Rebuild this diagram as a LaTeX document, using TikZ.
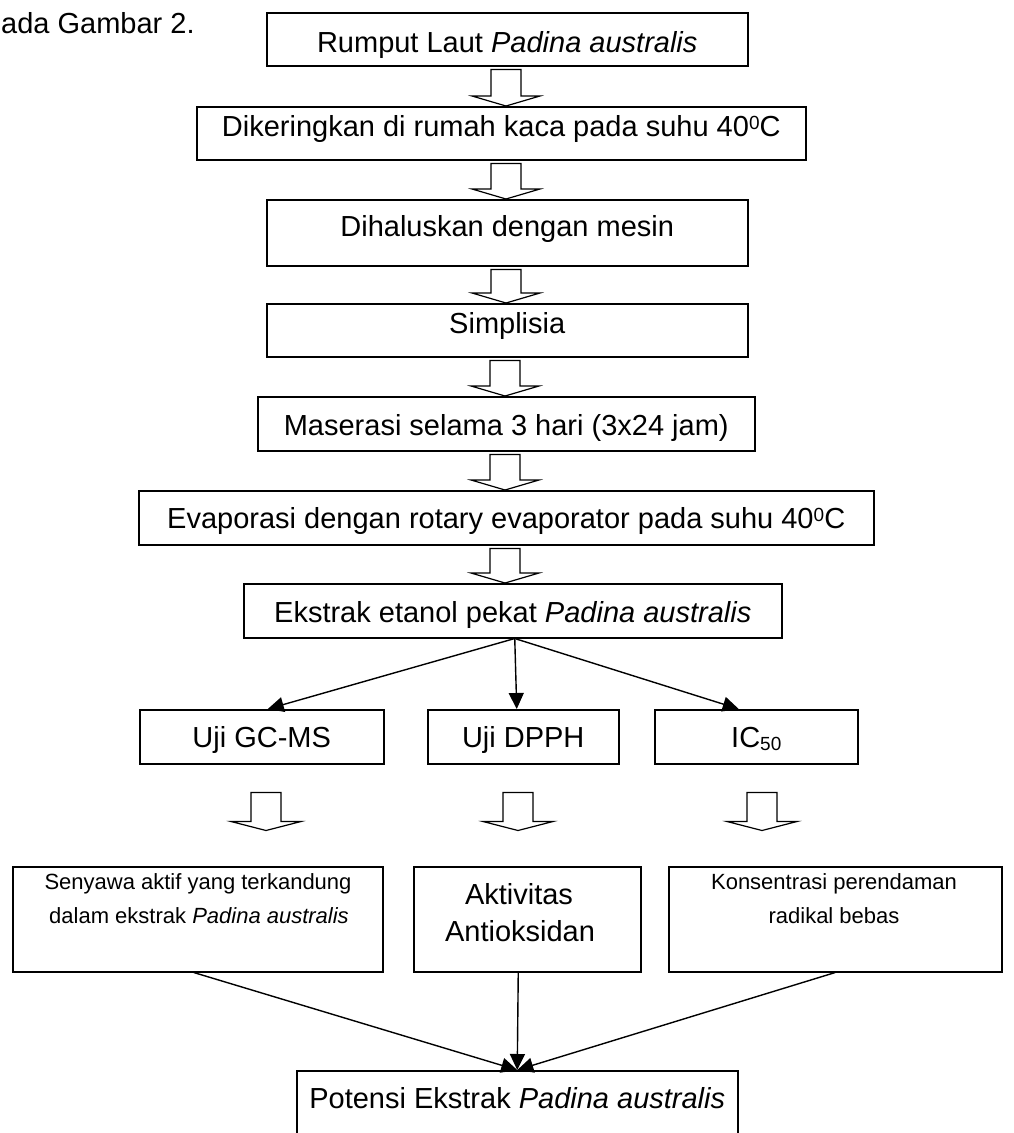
\documentclass[tikz,border=0pt]{standalone}
\usepackage{fontspec}
\setmainfont{Liberation Sans}
\usetikzlibrary{arrows.meta,calc}
\newcommand\mainsz{\fontsize{29}{34}\selectfont}
\newcommand\smallsz{\fontsize{22}{26}\selectfont}
\newcommand\supzero{\raisebox{7.5pt}{\fontsize{19}{20}\selectfont 0}}
\newcommand\subfifty{\raisebox{-2.5pt}{\fontsize{19}{20}\selectfont 50}}
\newcommand\hollowdown[3]{%
  \draw[harrow] let \p1=(#1.south), \p2=(#2.north) in
    (#3pt-15pt,\y1-3pt) -- (#3pt+15pt,\y1-3pt) -- (#3pt+15pt,\y2+10pt)
    -- (#3pt+34pt,\y2+10pt) -- (#3pt,\y2) -- (#3pt-34pt,\y2+10pt)
    -- (#3pt-15pt,\y2+10pt) -- cycle;}
\newcommand\hollowfloat[2]{%
  \draw[harrow] let \p1=(#1.south) in
    (#2pt-15pt,\y1-28pt) -- (#2pt+15pt,\y1-28pt) -- (#2pt+15pt,\y1-57pt)
    -- (#2pt+35pt,\y1-57pt) -- (#2pt,\y1-66pt) -- (#2pt-35pt,\y1-57pt)
    -- (#2pt-15pt,\y1-57pt) -- cycle;}
\begin{document}
\begin{tikzpicture}[x=1pt,y=-1pt,
  box/.style={draw, line width=1.5pt, inner xsep=0pt, inner ysep=0pt, anchor=north west, font=\mainsz},
  txt/.style={inner sep=0pt, anchor=base},
  conn/.style={line width=1.4pt, -{Triangle[length=16pt,width=15pt]}},
  harrow/.style={draw, line width=1.2pt, fill=white, line join=miter}]
\useasboundingbox (0,0) rectangle (1013,1133);
\clip (0,0) rectangle (1013,1133);

\node[txt, anchor=base west, font=\mainsz] (cap) at (1,33) {ada Gambar 2.};

\node[box, minimum width=481pt, text height=40pt, text depth=13pt] (r1) at (266,12) {Rumput Laut \textit{Padina australis}};
\node[box, minimum width=609pt, text height=30pt, text depth=23pt] (r2) at (196,106) {Dikeringkan di rumah kaca pada suhu 40\supzero C};
\node[box, minimum width=481pt, text height=37pt, text depth=29pt] (r3) at (266,199) {Dihaluskan dengan mesin};
\node[box, minimum width=481pt, text height=30pt, text depth=23pt] (r4) at (266,303) {Simplisia};
\node[box, minimum width=497pt, text height=39pt, text depth=15pt] (r5) at (257,396) {Maserasi selama 3 hari (3x24 jam)};
\node[box, minimum width=735pt, text height=38pt, text depth=16pt] (r6) at (138,490) {Evaporasi dengan rotary evaporator pada suhu 40\supzero C};
\node[box, minimum width=538pt, text height=39pt, text depth=15pt] (r7) at (243,583) {Ekstrak etanol pekat \textit{Padina australis}};

\node[box, minimum width=244pt, text height=38pt, text depth=16pt] (gc) at (139,709) {Uji GC-MS};
\node[box, minimum width=191pt, text height=38pt, text depth=16pt] (dpph) at (427,709) {Uji DPPH};
\node[box, minimum width=203pt, text height=38pt, text depth=16pt] (ic) at (654,709) {IC\subfifty};

\node[box, minimum width=370pt, minimum height=105pt] (b1) at (12,866) {};
\node[box, minimum width=227pt, minimum height=105pt] (b2) at (413,866) {};
\node[box, minimum width=333pt, minimum height=105pt] (b3) at (668,866) {};
\node[txt, font=\smallsz] (b1a) at (198,889) {Senyawa aktif yang terkandung};
\node[txt, font=\smallsz] (b1b) at (199,923) {dalam ekstrak \textit{Padina australis}};
\node[txt, font=\mainsz] (b2a) at (519,904) {Aktivitas};
\node[txt, font=\mainsz] (b2b) at (520,941) {Antioksidan};
\node[txt, font=\smallsz] (b3a) at (834,889) {Konsentrasi perendaman};
\node[txt, font=\smallsz] (b3b) at (834,923) {radikal bebas};

\node[box, minimum width=441pt, text height=38pt, text depth=40pt] (pot) at (296,1070) {Potensi Ekstrak \textit{Padina australis}};

\hollowdown{r1}{r2}{506}
\hollowdown{r2}{r3}{506}
\hollowdown{r3}{r4}{506}
\hollowdown{r4}{r5}{505}
\hollowdown{r5}{r6}{505}
\hollowdown{r6}{r7}{505}

\coordinate (ekb) at ($(r7.south)+(2,0)$);
\draw[conn] (ekb) -- ($(gc.north)+(6,0)$);
\draw[conn] (ekb) -- ($(dpph.north)+(-6.5,0)$);
\draw[conn] (ekb) -- ($(ic.north)+(-17.5,0)$);

\hollowfloat{gc}{266}
\hollowfloat{dpph}{518}
\hollowfloat{ic}{762}

\draw[conn] ($(b1.south)+(-4,0)$) -- (pot.north);
\draw[conn] ($(b2.south)+(-9,0)$) -- (pot.north);
\draw[conn] (b3.south) -- (pot.north);
\end{tikzpicture}
\end{document}
